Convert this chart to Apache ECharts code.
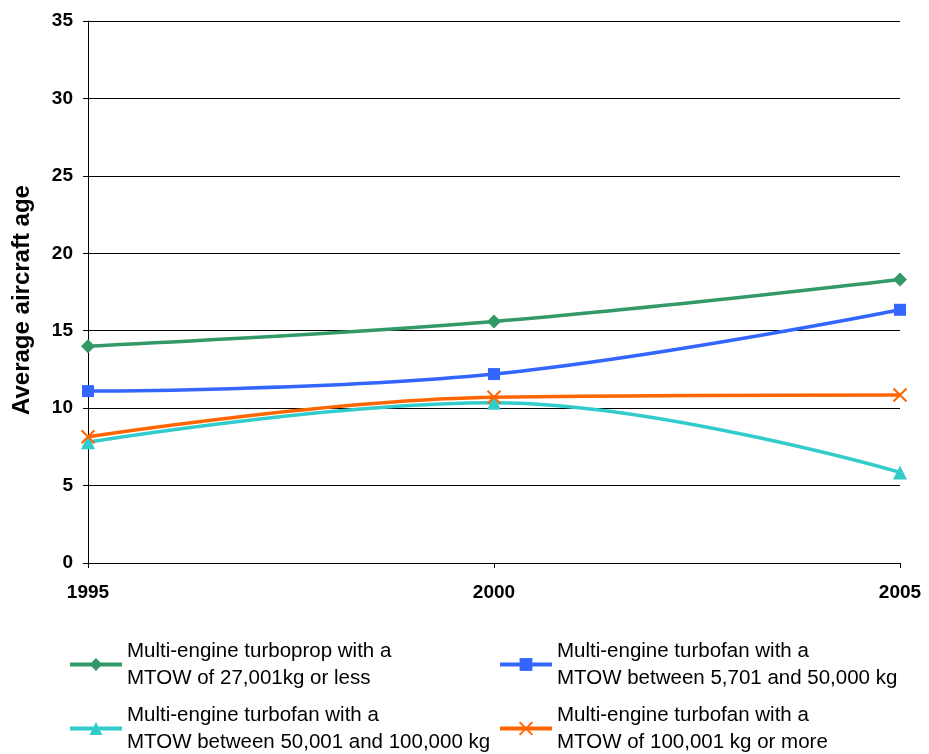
<!DOCTYPE html>
<html><head><meta charset="utf-8">
<script src="https://cdn.jsdelivr.net/npm/echarts@6/dist/echarts.min.js"></script>
<style>html,body{margin:0;padding:0;background:#fff}#c{width:929px;height:754px}</style>
</head><body><div id="c"></div>
<script>
const years = ['1995', '2000', '2005'];
const turboprop27 = [14.0, 15.6, 18.3];
const turbofan5to50 = [11.1, 12.2, 16.35];
const turbofan50to100 = [7.8, 10.35, 5.85];
const turbofan100plus = [8.15, 10.7, 10.85];
const seriesNames = [
  'Multi-engine turboprop with a\nMTOW of 27,001kg or less',
  'Multi-engine turbofan with a\nMTOW between 5,701 and 50,000 kg',
  'Multi-engine turbofan with a\nMTOW between 50,001 and 100,000 kg',
  'Multi-engine turbofan with a\nMTOW of 100,001 kg or more'
];
const yTicks = [0, 5, 10, 15, 20, 25, 30, 35];

const font = 'Liberation Sans, Arial, sans-serif';
const chart = echarts.init(document.getElementById('c'), null, {renderer: 'canvas'});
const legendText = {fontFamily: font, fontSize: 20.5, color: '#000', lineHeight: 27, padding: [27, 0, 0, 0]};
function lg(name, left, top) {
  return {data: [name], left: left, top: top, itemWidth: 52, itemHeight: 16, itemGap: 0,
    lineStyle: {width: 4}, textStyle: legendText, selectedMode: false, padding: 0};
}
const xPath = 'path://M0,0L10,10M10,0L0,10';
chart.setOption({
  animation: false,
  backgroundColor: '#fff',
  grid: {left: 88, right: 29, top: 21, bottom: 191, containLabel: false},
  legend: [
    lg(seriesNames[0], 68, 624),
    lg(seriesNames[1], 498, 624),
    lg(seriesNames[2], 68, 688),
    lg(seriesNames[3], 498, 688)
  ],
  xAxis: {
    type: 'category', data: years, boundaryGap: false,
    axisLine: {lineStyle: {color: '#000', width: 1}},
    axisTick: {show: true, length: 5, lineStyle: {color: '#000'}},
    axisLabel: {fontFamily: font, fontWeight: 'bold', fontSize: 19, color: '#000', margin: 20,
      align: 'center'},
    splitLine: {show: false}
  },
  yAxis: {
    type: 'value', min: yTicks[0], max: yTicks[yTicks.length - 1], interval: 5,
    name: 'Average aircraft age', nameLocation: 'middle', nameGap: 54,
    nameTextStyle: {fontFamily: font, fontWeight: 'bold', fontSize: 24, color: '#000',
      padding: [0, 16, 0, 0]},
    axisLine: {show: true, lineStyle: {color: '#000', width: 1}},
    axisTick: {show: true, length: 5, lineStyle: {color: '#000'}},
    axisLabel: {fontFamily: font, fontWeight: 'bold', fontSize: 19, color: '#000', margin: 15},
    splitLine: {show: true, lineStyle: {color: '#000', width: 1}}
  },
  series: [
    {name: seriesNames[0], type: 'line', data: turboprop27, smooth: 0.4, color: '#339966',
      symbol: 'diamond', symbolSize: 14, lineStyle: {width: 3.5}},
    {name: seriesNames[1], type: 'line', data: turbofan5to50, smooth: 0.4, color: '#3366FF',
      symbol: 'rect', symbolSize: 12, lineStyle: {width: 3.5}},
    {name: seriesNames[2], type: 'line', data: turbofan50to100, smooth: 0.4, color: '#33CCCC',
      symbol: 'triangle', symbolSize: 14, lineStyle: {width: 3.5}},
    {name: seriesNames[3], type: 'line', data: turbofan100plus, smooth: 0.4, color: '#FF6600',
      symbol: xPath, symbolSize: 13, lineStyle: {width: 3.5},
      itemStyle: {color: '#FF6600', borderColor: '#FF6600', borderWidth: 2}}
  ]
});
</script></body></html>
